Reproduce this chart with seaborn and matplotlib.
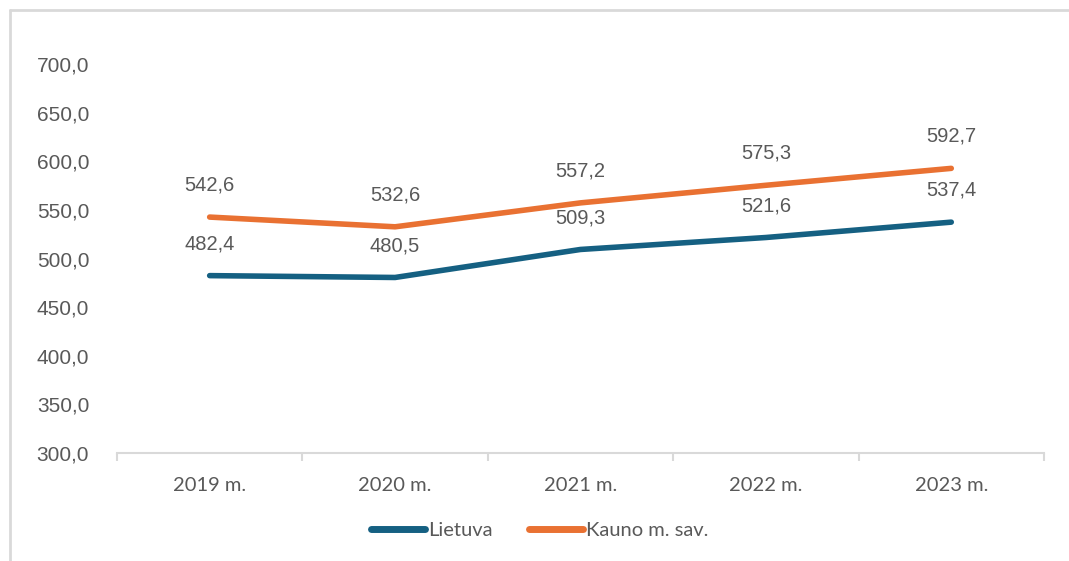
import matplotlib
matplotlib.use("Agg")
import matplotlib.pyplot as plt
import matplotlib.ticker as mticker
from matplotlib.lines import Line2D
import pandas as pd
import seaborn as sns

years = ["2019 m.", "2020 m.", "2021 m.", "2022 m.", "2023 m."]
lietuva = [482.4, 480.5, 509.3, 521.6, 537.4]
kaunas = [542.6, 532.6, 557.2, 575.3, 592.7]
series_names = ["Lietuva", "Kauno m. sav."]
colors = {"Lietuva": "#156082", "Kauno m. sav.": "#E97132"}

df = pd.DataFrame({
    "Metai": years * 2,
    "Reikšmė": lietuva + kaunas,
    "Serija": [series_names[0]] * len(years) + [series_names[1]] * len(years),
})

sns.set_style("white")
plt.rcParams["font.family"] = ["Liberation Sans", "DejaVu Sans"]
txt = "#595959"

fig = plt.figure(figsize=(10.69, 5.61), dpi=100)
ax = fig.add_axes([0.1094, 0.1925, 0.8672, 0.6934])

sns.lineplot(data=df, x="Metai", y="Reikšmė", hue="Serija", hue_order=series_names,
             palette=colors, linewidth=4, ax=ax, legend=False, sort=False)
for ln in ax.lines:
    ln.set_solid_capstyle("round")

for name, vals in zip(series_names, [lietuva, kaunas]):
    for i, v in enumerate(vals):
        ax.annotate(f"{v:.1f}".replace(".", ","), (i, v), xytext=(0, 23),
                    textcoords="offset points", ha="center", va="center",
                    fontsize=14.5, color=txt)

ax.set_xlim(-0.5, len(years) - 0.5)
ax.set_ylim(300, 700)
ax.yaxis.set_major_locator(mticker.MultipleLocator(50))
ax.yaxis.set_major_formatter(mticker.FuncFormatter(lambda v, p: f"{v:.1f}".replace(".", ",")))
ax.set_xticks(range(len(years)))
ax.set_xticklabels(years, family=["Lato", "DejaVu Sans"])
ax.set_xticks([i - 0.5 for i in range(len(years) + 1)], minor=True)
ax.tick_params(axis="x", which="major", bottom=False, length=0, pad=17, labelsize=14.5, labelcolor=txt)
ax.tick_params(axis="x", which="minor", bottom=True, length=6, width=1.5, color="#D9D9D9", direction="out")
ax.tick_params(axis="y", length=0, pad=20, labelsize=15, labelcolor=txt)
ax.set_xlabel("")
ax.set_ylabel("")
for s in ["top", "right", "left"]:
    ax.spines[s].set_visible(False)
ax.spines["bottom"].set_color("#D9D9D9")
ax.spines["bottom"].set_linewidth(1.5)

handles = [Line2D([], [], color=colors[n], linewidth=5, solid_capstyle="round") for n in series_names]
fig.legend(handles, series_names, loc="center", bbox_to_anchor=(0.505, 0.055), ncol=2,
           frameon=False, handlelength=2.7, handletextpad=0.15,
           columnspacing=1.8, labelcolor=txt, prop={"family": ["Lato", "DejaVu Sans"], "size": 14.5})

# chart area border (top and left)
fig.add_artist(Line2D([10 / 1069, 1], [1 - 10 / 561, 1 - 10 / 561], color="#D9D9D9", linewidth=2,
                      transform=fig.transFigure))
fig.add_artist(Line2D([10 / 1069, 10 / 1069], [0, 1 - 10 / 561], color="#D9D9D9", linewidth=2,
                      transform=fig.transFigure))

fig.savefig("out.png", dpi=100)
